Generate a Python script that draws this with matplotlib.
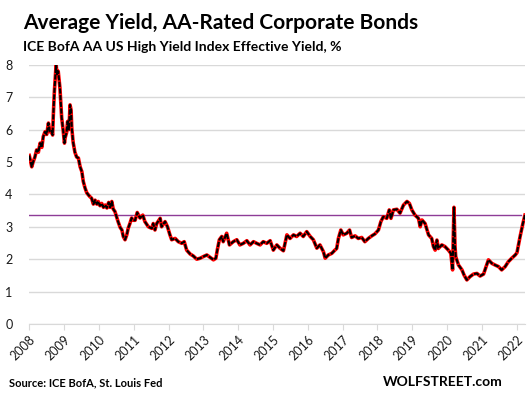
import matplotlib

matplotlib.use("Agg")
import matplotlib.pyplot as plt

# decimal year, effective yield in %
dates = [
    2008.00, 2008.07, 2008.11, 2008.16, 2008.21, 2008.26, 2008.31, 2008.36,
    2008.40, 2008.45, 2008.50, 2008.55, 2008.59, 2008.64, 2008.67, 2008.69,
    2008.72, 2008.77, 2008.80, 2008.83, 2008.88, 2008.93, 2008.97, 2009.01,
    2009.03, 2009.07, 2009.10, 2009.14, 2009.17, 2009.20, 2009.22, 2009.26,
    2009.31, 2009.36, 2009.41, 2009.46, 2009.51, 2009.55, 2009.60, 2009.65,
    2009.70, 2009.74, 2009.79, 2009.84, 2009.89, 2009.94, 2009.98, 2010.03,
    2010.08, 2010.13, 2010.18, 2010.23, 2010.28, 2010.32, 2010.37, 2010.41,
    2010.46, 2010.51, 2010.55, 2010.61, 2010.66, 2010.70, 2010.75, 2010.80,
    2010.84, 2010.89, 2010.94, 2010.99, 2011.04, 2011.10, 2011.18, 2011.26,
    2011.32, 2011.42, 2011.52, 2011.56, 2011.61, 2011.66, 2011.76, 2011.80,
    2011.90, 2011.97, 2012.04, 2012.09, 2012.19, 2012.28, 2012.38, 2012.45,
    2012.52, 2012.62, 2012.71, 2012.81, 2012.91, 2013.00, 2013.10, 2013.19,
    2013.29, 2013.36, 2013.40, 2013.46, 2013.53, 2013.57, 2013.67, 2013.75,
    2013.86, 2013.96, 2014.05, 2014.15, 2014.25, 2014.34, 2014.44, 2014.53,
    2014.63, 2014.72, 2014.82, 2014.92, 2015.01, 2015.11, 2015.20, 2015.30,
    2015.40, 2015.49, 2015.59, 2015.68, 2015.78, 2015.87, 2015.97, 2016.07,
    2016.16, 2016.26, 2016.35, 2016.45, 2016.50, 2016.59, 2016.69, 2016.78,
    2016.83, 2016.88, 2016.95, 2017.02, 2017.12, 2017.20, 2017.26, 2017.36,
    2017.45, 2017.55, 2017.64, 2017.74, 2017.84, 2017.93, 2018.03, 2018.10,
    2018.17, 2018.27, 2018.34, 2018.39, 2018.46, 2018.56, 2018.65, 2018.75,
    2018.85, 2018.92, 2018.99, 2019.08, 2019.18, 2019.23, 2019.28, 2019.37,
    2019.47, 2019.56, 2019.61, 2019.66, 2019.71, 2019.75, 2019.85, 2019.94,
    2020.04, 2020.11, 2020.16, 2020.20, 2020.23, 2020.25, 2020.33, 2020.43,
    2020.49, 2020.57, 2020.66, 2020.76, 2020.86, 2020.95, 2021.05, 2021.14,
    2021.19, 2021.29, 2021.38, 2021.48, 2021.57, 2021.67, 2021.76, 2021.86,
    2021.96, 2022.01, 2022.10, 2022.18, 2022.24,
]
yields = [
    5.20, 4.85, 5.00, 5.15, 5.37, 5.30, 5.58, 5.45,
    5.78, 5.93, 5.85, 6.20, 5.93, 5.95, 5.83, 6.45,
    7.17, 8.00, 7.68, 7.80, 7.28, 6.36, 6.00, 5.58,
    5.75, 5.90, 6.25, 6.00, 6.76, 6.60, 6.05, 5.60,
    5.30, 5.15, 5.12, 4.85, 4.70, 4.40, 4.20, 4.05,
    3.98, 3.93, 3.88, 3.70, 3.82, 3.70, 3.78, 3.65,
    3.72, 3.60, 3.67, 3.58, 3.75, 3.60, 3.78, 3.55,
    3.47, 3.30, 3.16, 2.98, 2.90, 2.70, 2.60, 2.75,
    2.95, 3.10, 3.27, 3.20, 3.20, 3.44, 3.27, 3.36,
    3.16, 3.00, 2.95, 3.10, 2.90, 3.10, 3.26, 3.00,
    3.16, 3.00, 2.75, 2.60, 2.64, 2.54, 2.49, 2.54,
    2.28, 2.16, 2.10, 2.00, 2.03, 2.08, 2.13, 2.06,
    1.98, 2.03, 2.28, 2.60, 2.70, 2.54, 2.80, 2.44,
    2.54, 2.60, 2.44, 2.49, 2.57, 2.44, 2.54, 2.49,
    2.44, 2.54, 2.49, 2.57, 2.28, 2.44, 2.34, 2.26,
    2.75, 2.64, 2.75, 2.70, 2.80, 2.70, 2.85, 2.70,
    2.60, 2.34, 2.44, 2.23, 2.03, 2.13, 2.18, 2.28,
    2.33, 2.64, 2.90, 2.75, 2.80, 2.90, 2.67, 2.72,
    2.64, 2.67, 2.54, 2.64, 2.72, 2.78, 2.90, 3.16,
    3.31, 3.26, 3.52, 3.26, 3.52, 3.54, 3.42, 3.67,
    3.78, 3.72, 3.52, 3.36, 3.26, 3.00, 3.21, 3.10,
    2.75, 2.64, 2.39, 2.28, 2.59, 2.33, 2.44, 2.39,
    2.28, 2.18, 1.67, 3.60, 2.39, 2.08, 1.82, 1.67,
    1.51, 1.36, 1.46, 1.54, 1.56, 1.48, 1.54, 1.82,
    1.98, 1.87, 1.82, 1.77, 1.67, 1.77, 1.92, 2.03,
    2.13, 2.20, 2.70, 3.10, 3.36,
]
years = list(range(2008, 2023))
y_ticks = list(range(0, 9))

FONT = ["Lato", "DejaVu Sans"]
plt.rcParams["font.family"] = FONT

fig = plt.figure(figsize=(5.29, 3.96), dpi=100)
ax = fig.add_axes((0.0554, 0.1818, 0.937, 0.6548))

ax.set_xlim(2008, dates[-1])
ax.set_ylim(0, 8)
ax.set_yticks(y_ticks)
ax.set_xticks(years)
ax.set_xticklabels([str(y) for y in years], rotation=45, ha="right",
                   va="top", rotation_mode="anchor")
ax.grid(axis="y", color="#d9d9d9", linewidth=1)
ax.set_axisbelow(True)
for side in ("left", "right", "top"):
    ax.spines[side].set_visible(False)
ax.spines["bottom"].set_color("#d9d9d9")
ax.tick_params(axis="y", length=0, pad=12, labelsize=9, labelcolor="#1a1a1a")
ax.tick_params(axis="x", length=4, color="#d9d9d9", pad=3, labelsize=9,
               labelcolor="#1a1a1a")

ax.axhline(yields[-1], xmax=0.992, color="#8e3c97", linewidth=1, zorder=2)
ax.plot(dates, yields, color="#ff0000", linewidth=2.6, solid_joinstyle="round",
        zorder=3)
ax.plot(dates, yields, color="black", linewidth=1.5, dashes=(2.5, 0.7),
        zorder=4)

fig.text(0.043, 0.928, "Average Yield, AA-Rated Corporate Bonds",
         fontsize=15, fontweight="bold")
fig.text(0.043, 0.872, "ICE BofA AA US High Yield Index Effective Yield, %",
         fontsize=10, fontweight="bold")
fig.text(0.017, 0.025, "Source: ICE BofA, St. Louis Fed", fontsize=8,
         fontweight="bold")
fig.text(0.951, 0.025, "WOLFSTREET.com", fontsize=10, fontweight="bold",
         ha="right")

fig.savefig("out.png", dpi=100)
